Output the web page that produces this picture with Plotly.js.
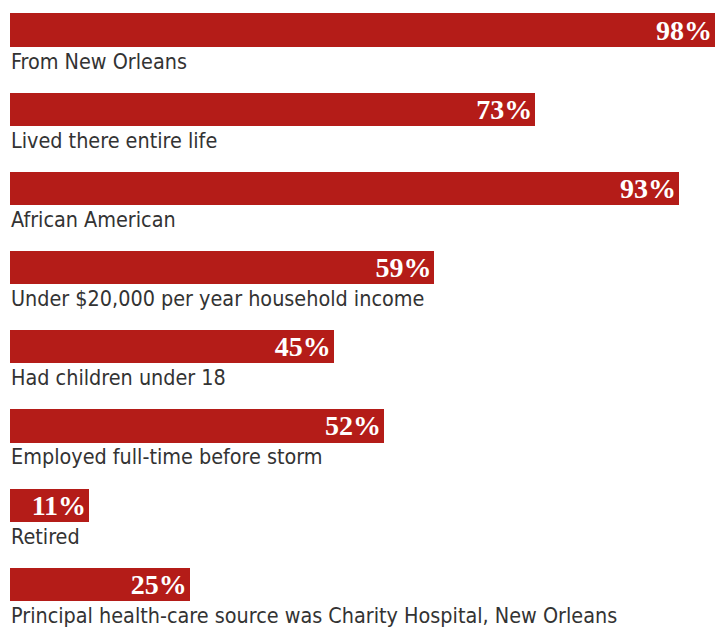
<!DOCTYPE html>
<html><head><meta charset="utf-8">
<script src="https://cdn.plot.ly/plotly-3.0.1.min.js"></script>
<style>html,body{margin:0;padding:0;background:#fff}#chart{width:715px;height:628px}</style>
</head><body><div id="chart"></div>
<script>
const categories = [
  "From New Orleans",
  "Lived there entire life",
  "African American",
  "Under $20,000 per year household income",
  "Had children under 18",
  "Employed full-time before storm",
  "Retired",
  "Principal health-care source was Charity Hospital, New Orleans"
];
const values = [98, 73, 93, 59, 45, 52, 11, 25];
const valueLabels = values.map(v => v + "%");

const trace = {
  type: "bar",
  orientation: "h",
  y: categories,
  x: values,
  text: valueLabels,
  textposition: "inside",
  insidetextanchor: "end",
  constraintext: "none",
  textangle: 0,
  insidetextfont: {family: "Liberation Serif", size: 28, color: "#ffffff", weight: "bold"},
  marker: {color: "#b41c18", line: {width: 0}},
  width: 0.42,
  hoverinfo: "none"
};

const annotations = categories.map(c => ({
  x: 0, y: c, xref: "x", yref: "y",
  text: c, showarrow: false,
  xanchor: "left", yanchor: "middle",
  xshift: -1, yshift: -31,
  font: {family: "'DejaVu Sans Condensed', Lato, sans-serif", size: 21.4, color: "#333333"}
}));

const layout = {
  width: 715, height: 628,
  margin: {l: 10, r: 0, t: 0, b: 0},
  paper_bgcolor: "#ffffff", plot_bgcolor: "#ffffff",
  showlegend: false,
  bargap: 0,
  xaxis: {range: [0, 98], visible: false, fixedrange: true},
  yaxis: {type: "category", range: [7.551, -0.379], visible: false, fixedrange: true},
  annotations: annotations
};

Plotly.newPlot("chart", [trace], layout, {displayModeBar: false, staticPlot: true});
</script>
</body></html>
